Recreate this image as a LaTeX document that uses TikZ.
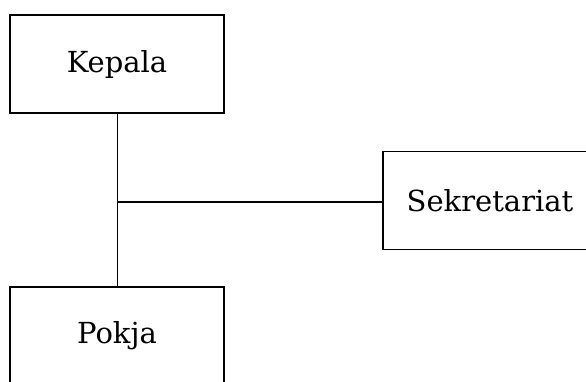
\documentclass[tikz,border=0pt]{standalone}
\usepackage{fontspec}
\setmainfont{DejaVu Serif}
\usetikzlibrary{positioning}
\tikzset{
  unitbox/.style={draw,line width=1.4pt,minimum width=214pt,minimum height=98pt,inner sep=0pt,font=\fontsize{29}{34}\selectfont}
}
\begin{document}
\begin{tikzpicture}[x=1pt,y=-1pt]
  % frame of the picture
  \clip (0,0) rectangle (586,381);
  % boxes
  \node[unitbox] (kepala) at (117,64) {Kepala};
  \node[unitbox] (sekretariat) at (490,200.5) {Sekretariat};
  \node[unitbox] (pokja) at (117,336) {Pokja};
  % junction on the vertical line
  \coordinate (J) at (kepala.south |- 0,202);
  % connectors
  \draw[line width=1pt] (kepala) -- (pokja);
  \draw[line width=1.4pt] (J) -- (J -| sekretariat.west);
\end{tikzpicture}
\end{document}
